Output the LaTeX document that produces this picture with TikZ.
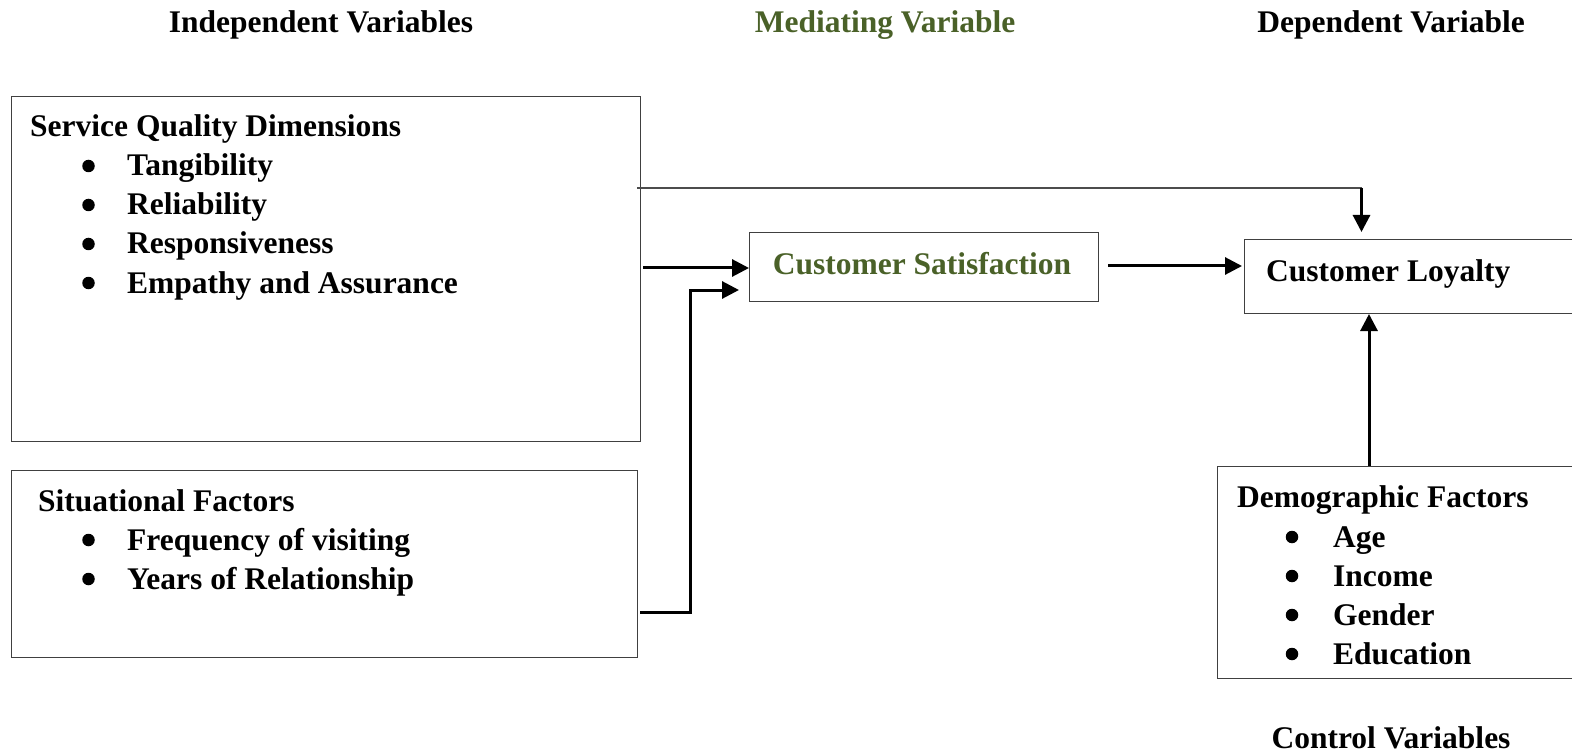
\documentclass[tikz,border=0pt]{standalone}
\usepackage{fontspec}
\setmainfont{Liberation Serif}
\usetikzlibrary{arrows.meta,calc}
\definecolor{medgreen}{HTML}{4A6128}
\begin{document}
\begin{tikzpicture}[x=1pt,y=-1pt,
  font=\fontsize{31.5}{38}\selectfont\bfseries,
  box/.style={draw=black!75, line width=1.3pt, inner sep=0, anchor=north west},
  txt/.style={inner sep=0, anchor=base west},
  head/.style={inner sep=0, anchor=base},
  dot/.style={circle, fill=black, inner sep=0, minimum size=12.5pt},
  thinline/.style={draw=black!70, line width=1.4pt},
  link/.style={line width=3pt, -{Triangle[length=17pt,width=17pt]}}]
\useasboundingbox (0,0) rectangle (1572,754);

% column headings
\node[head] (hind) at (321,33) {Independent Variables};
\node[head, text=medgreen] (hmed) at (885,33) {Mediating Variable};
\node[head] (hdep) at (1391,33) {Dependent Variable};
\node[head] (hctl) at (1391,748) {Control Variables};

% boxes
\node[box, minimum width=629, minimum height=345] (sq) at (11,96) {};
\node[box, minimum width=626, minimum height=187] (sf) at (11,470) {};
\node[box, minimum width=349, minimum height=69] (cs) at (749,232) {};
\node[box, minimum width=400, minimum height=74] (cl) at (1244,239) {};
\node[box, minimum width=420, minimum height=212] (df) at (1217,466) {};

% service quality dimensions
\node[txt] (sqh) at (30,137) {Service Quality Dimensions};
\foreach \y/\t [count=\i] in {176/Tangibility, 215/Reliability, 254/Responsiveness, 293/Empathy and Assurance}{
  \node[dot] (sqb\i) at (88.5,\y-10) {};
  \node[txt] (sqt\i) at (127,\y) {\t};
}

% situational factors
\node[txt] (sfh) at (38,511) {Situational Factors};
\foreach \y/\t [count=\i] in {550/Frequency of visiting, 589/Years of Relationship}{
  \node[dot] (sfb\i) at (88.5,\y-10) {};
  \node[txt] (sft\i) at (127,\y) {\t};
}

% mediating and dependent variables
\node[head, text=medgreen] (cst) at (922,274) {Customer Satisfaction};
\node[txt] (clt) at (1266,281) {Customer Loyalty};

% demographic factors
\node[txt] (dfh) at (1237,507) {Demographic Factors};
\foreach \y/\t [count=\i] in {547/Age, 586/Income, 625/Gender, 664/Education}{
  \node[dot] (dfb\i) at (1292,\y-10) {};
  \node[txt] (dft\i) at (1333,\y) {\t};
}

% connectors
\coordinate (sqtop) at (637,188);
\coordinate (bend) at (1361.5,188);
\coordinate (cltop) at (1361.5,232);
\draw[thinline] (sqtop) -- (bend);
\draw[link] (bend) -- (cltop);
\draw[link] (643,268) -- (cs.west |- 0,268);
\coordinate (sfout) at (640,612);
\coordinate (sfturn) at (690,612);
\coordinate (csin) at (739,290);
\draw[link] (sfout) -- (sfturn) |- (csin);
\draw[link] (1108,266) -- ([xshift=-2pt]cl.west |- 0,266);
\coordinate (dftop) at (1369,466);
\coordinate (clbot) at (1369,314);
\draw[link] (dftop) -- (clbot);
\end{tikzpicture}
\end{document}
